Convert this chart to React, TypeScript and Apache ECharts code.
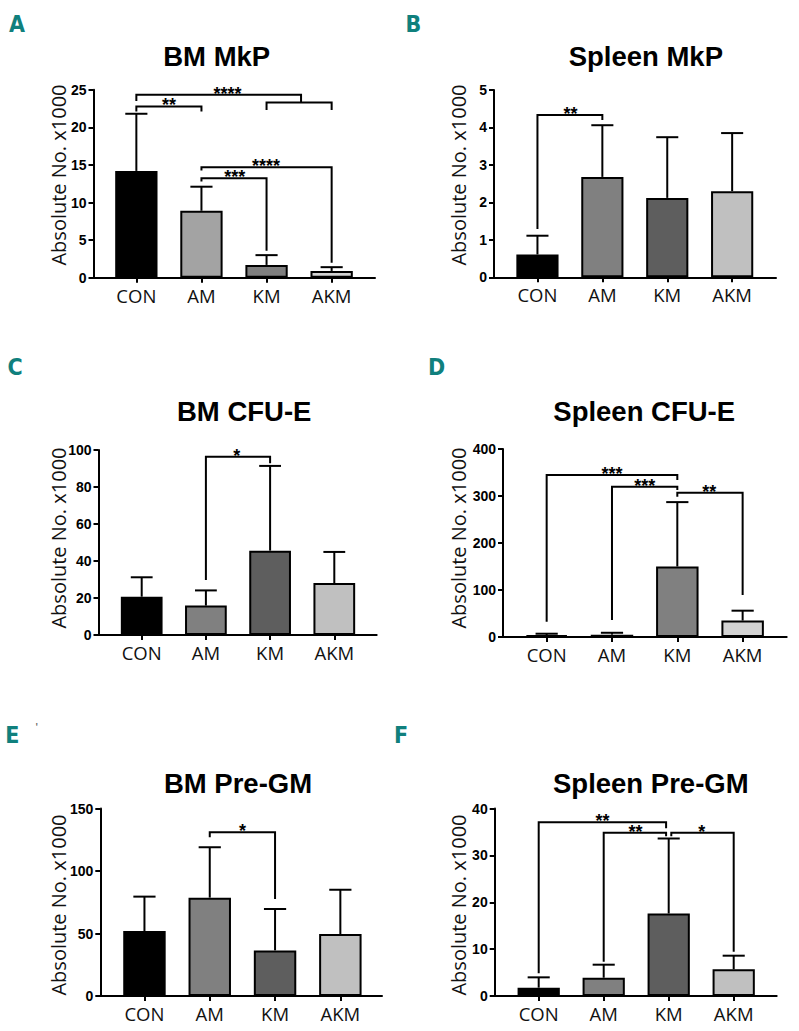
import React, { useEffect, useRef } from 'react';
import * as echarts from 'echarts';

// ---------- DATA ----------
const categories = ['CON', 'AM', 'KM', 'AKM'];

const bmMkpMean = [14.2, 8.9, 1.7, 0.9];
const bmMkpSd = [7.6, 3.2, 1.3, 0.5];
const bmMkpTicks = [0, 5, 10, 15, 20, 25];

const spleenMkpMean = [0.61, 2.68, 2.12, 2.3];
const spleenMkpSd = [0.5, 1.38, 1.62, 1.55];
const spleenMkpTicks = [0, 1, 2, 3, 4, 5];

const bmCfuEMean = [20.7, 15.9, 45.6, 28.1];
const bmCfuESd = [10.5, 8.2, 45.8, 16.8];
const bmCfuETicks = [0, 20, 40, 60, 80, 100];

const spleenCfuEMean = [4, 5, 150, 35];
const spleenCfuESd = [3, 4, 137, 21];
const spleenCfuETicks = [0, 100, 200, 300, 400];

const bmPreGmMean = [52, 78.7, 36.5, 49.6];
const bmPreGmSd = [27.5, 40.3, 33.1, 35.4];
const bmPreGmTicks = [0, 50, 100, 150];

const spleenPreGmMean = [1.78, 3.9, 17.6, 5.7];
const spleenPreGmSd = [2.2, 2.78, 16.0, 2.9];
const spleenPreGmTicks = [0, 10, 20, 30, 40];

// significance brackets: points as [category position, value], label, label position
type Bracket = { pts: number[][]; label: string; lx: number };

const bmMkpSig: Bracket[] = [
  { pts: [[0, 23.5], [0, 24.33], [2.53, 24.33], [2.53, 23.3]], label: '****', lx: 1.4 },
  { pts: [[2, 22.3], [2, 23.3], [3, 23.3], [3, 22.3]], label: '', lx: 2.5 },
  { pts: [[0, 22.1], [0, 22.77], [1, 22.77], [1, 22.1]], label: '**', lx: 0.5 },
  { pts: [[1, 14.25], [1, 14.7], [3, 14.7], [3, 2.0]], label: '****', lx: 1.99 },
  { pts: [[1, 12.78], [1, 13.24], [2, 13.24], [2, 3.6]], label: '***', lx: 1.51 },
];
const spleenMkpSig: Bracket[] = [
  { pts: [[0, 1.29], [0, 4.33], [1, 4.33], [1, 4.2]], label: '**', lx: 0.51 },
];
const bmCfuESig: Bracket[] = [
  { pts: [[1, 29.7], [1, 96.4], [2, 96.4], [2, 92.8]], label: '*', lx: 1.48 },
];
const spleenCfuESig: Bracket[] = [
  { pts: [[0, 32.6], [0, 344.7], [2, 344.7], [2, 334]], label: '***', lx: 1.0 },
  { pts: [[1, 36], [1, 319.9], [2, 319.9], [2, 312.8]], label: '***', lx: 1.5 },
  { pts: [[2, 298.5], [2, 307], [3, 307], [3, 89.4]], label: '**', lx: 2.49 },
];
const bmPreGmSig: Bracket[] = [
  { pts: [[1, 127], [1, 131], [2, 131], [2, 77.6]], label: '*', lx: 1.5 },
];
const spleenPreGmSig: Bracket[] = [
  { pts: [[0, 4.84], [0, 37.05], [1.96, 37.05], [1.96, 35.8]], label: '**', lx: 0.98 },
  { pts: [[1, 7.3], [1, 34.85], [1.96, 34.85], [1.96, 34.1]], label: '**', lx: 1.49 },
  { pts: [[2.04, 34.1], [2.04, 34.85], [3, 34.85], [3, 9.45]], label: '*', lx: 2.51 },
];

// ---------- LAYOUT / STYLE ----------
const grayA = ['#000000', '#a3a3a3', '#7f7f7f', '#d3d3d3'];
const grayB = ['#000000', '#808080', '#5e5e5e', '#c0c0c0'];
const grayD = ['#000000', '#7a7a7a', '#808080', '#d3d3d3'];

const panels = [
  { letter: 'A', title: 'BM MkP', mean: bmMkpMean, sd: bmMkpSd, ticks: bmMkpTicks, sig: bmMkpSig, colors: grayA,
    L: { lx: 17, ly: 23.5, tx: 216.7, ty: 56.7, nx: 58.3, ny: 175, axLeft: 93.5, top: 89.7, bottom: 277.7, right: 375, barsLeft: 103.8, barsWidth: 260.4 } },
  { letter: 'B', title: 'Spleen MkP', mean: spleenMkpMean, sd: spleenMkpSd, ticks: spleenMkpTicks, sig: spleenMkpSig, colors: grayB,
    L: { lx: 413.3, ly: 23.5, tx: 645.8, ty: 56.7, nx: 458.3, ny: 175, axLeft: 494, top: 90, bottom: 277.3, right: 776, barsLeft: 505, barsWidth: 259.6 } },
  { letter: 'C', title: 'BM CFU-E', mean: bmCfuEMean, sd: bmCfuESd, ticks: bmCfuETicks, sig: bmCfuESig, colors: grayB,
    L: { lx: 15, ly: 366.7, tx: 244.2, ty: 411.7, nx: 58.3, ny: 538, axLeft: 98.5, top: 450, bottom: 635, right: 376.7, barsLeft: 109.6, barsWidth: 256.8 } },
  { letter: 'D', title: 'Spleen CFU-E', mean: spleenCfuEMean, sd: spleenCfuESd, ticks: spleenCfuETicks, sig: spleenCfuESig, colors: grayD,
    L: { lx: 436.7, ly: 366.7, tx: 644.2, ty: 411, nx: 458.3, ny: 538, axLeft: 503, top: 449, bottom: 637, right: 786.7, barsLeft: 514, barsWidth: 261.3 } },
  { letter: 'E', title: 'BM Pre-GM', mean: bmPreGmMean, sd: bmPreGmSd, ticks: bmPreGmTicks, sig: bmPreGmSig, colors: grayB,
    L: { lx: 12.3, ly: 735, tx: 238, ty: 783.3, nx: 58.3, ny: 905, axLeft: 100.3, top: 808.5, bottom: 996, right: 382, barsLeft: 111.8, barsWidth: 261.2 } },
  { letter: 'F', title: 'Spleen Pre-GM', mean: spleenPreGmMean, sd: spleenPreGmSd, ticks: spleenPreGmTicks, sig: spleenPreGmSig, colors: grayB,
    L: { lx: 401, ly: 735, tx: 650.8, ty: 783.3, nx: 458.3, ny: 905, axLeft: 494.7, top: 808.5, bottom: 996, right: 776.7, barsLeft: 506.2, barsWidth: 260 } },
];

const SANS = '"Liberation Sans", Arial, sans-serif';
const OPEN = '"Open Sans", "Noto Sans", sans-serif';
const TEAL = '#10807d';

function buildOption() {
  const grid: any[] = [];
  const xAxis: any[] = [];
  const yAxis: any[] = [];
  const series: any[] = [];
  const graphic: any[] = [];

  panels.forEach((p, k) => {
    const L = p.L;
    const gA = 2 * k;
    const gB = 2 * k + 1;
    const h = L.bottom - L.top;
    grid.push({ left: L.axLeft, top: L.top, width: L.right - L.axLeft, height: h, containLabel: false });
    grid.push({ left: L.barsLeft, top: L.top, width: L.barsWidth, height: h, containLabel: false });
    const min = p.ticks[0];
    const max = p.ticks[p.ticks.length - 1];
    const interval = p.ticks[1] - p.ticks[0];

    xAxis.push({
      type: 'value', gridIndex: gA, min: 0, max: 1,
      axisLine: { show: true, onZero: false, lineStyle: { color: '#000', width: 2 } },
      axisTick: { show: false }, axisLabel: { show: false }, splitLine: { show: false },
    });
    xAxis.push({
      type: 'category', gridIndex: gB, data: categories,
      axisLine: { show: false },
      axisTick: { show: true, alignWithLabel: true, length: 5, lineStyle: { color: '#000', width: 2 } },
      axisLabel: { color: '#111', fontFamily: OPEN, fontSize: 18.5, margin: 8 },
      splitLine: { show: false },
    });
    yAxis.push({
      type: 'value', gridIndex: gA, min, max, interval,
      axisLine: { show: true, lineStyle: { color: '#000', width: 2 } },
      axisTick: { show: true, length: 5, lineStyle: { color: '#000', width: 2 } },
      axisLabel: { color: '#000', fontFamily: SANS, fontWeight: 'bold', fontSize: 14, margin: 7 },
      splitLine: { show: false },
    });
    yAxis.push({ type: 'value', gridIndex: gB, min, max, interval, show: false });

    series.push({
      type: 'bar', xAxisIndex: gB, yAxisIndex: gB, barWidth: '65%', z: 2,
      data: p.mean.map((v, i) => ({ value: v, itemStyle: { color: p.colors[i] } })),
      itemStyle: { borderColor: '#000', borderWidth: 2 },
    });
    series.push({
      type: 'custom', xAxisIndex: gB, yAxisIndex: gB, z: 3,
      data: p.mean.map((m, i) => [i, m, m + p.sd[i]]),
      encode: { x: 0, y: [1, 2] },
      renderItem: (params: any, api: any) => {
        const i = api.value(0);
        const p0 = api.coord([i, api.value(1)]);
        const p1 = api.coord([i, api.value(2)]);
        const half = api.size([1, 0])[0] * 0.17;
        return {
          type: 'group',
          children: [
            { type: 'line', shape: { x1: p0[0], y1: p0[1], x2: p1[0], y2: p1[1] }, style: { stroke: '#000', lineWidth: 2 } },
            { type: 'line', shape: { x1: p1[0] - half, y1: p1[1], x2: p1[0] + half, y2: p1[1] }, style: { stroke: '#000', lineWidth: 2 } },
          ],
        };
      },
    });
    const sig = p.sig;
    series.push({
      type: 'custom', xAxisIndex: gB, yAxisIndex: gB, z: 4,
      data: sig.map(() => [0, 0]),
      renderItem: (params: any, api: any) => {
        const b = sig[params.dataIndex];
        const base = api.coord([0, 0]);
        const band = api.size([1, 0])[0];
        const X = (c: number) => base[0] + c * band;
        const Y = (v: number) => api.coord([0, v])[1];
        const pts = b.pts.map(([c, v]) => [X(c), Y(v)]);
        const topV = Math.max(...b.pts.map((q) => q[1]));
        const children: any[] = [
          { type: 'polyline', shape: { points: pts }, style: { stroke: '#000', lineWidth: 2, fill: null } },
        ];
        if (b.label) {
          children.push({
            type: 'text',
            style: {
              text: b.label, x: X(b.lx), y: Y(topV) - 1,
              align: 'center', verticalAlign: 'middle',
              fill: '#000', fontFamily: SANS, fontWeight: 'bold', fontSize: 18,
            },
          });
        }
        return { type: 'group', children };
      },
    });

    graphic.push({
      type: 'text', x: L.lx, y: L.ly,
      style: { text: p.letter, fill: TEAL, fontFamily: '"Liberation Sans Narrow", "DejaVu Sans Condensed", sans-serif', fontWeight: 'bold', fontSize: 23, align: 'center', verticalAlign: 'middle' },
    });
    graphic.push({
      type: 'text', x: L.tx, y: L.ty,
      style: { text: p.title, fill: '#000', fontFamily: SANS, fontWeight: 'bold', fontSize: 27.5, align: 'center', verticalAlign: 'middle' },
    });
    graphic.push({
      type: 'text', x: L.nx, y: L.ny, rotation: Math.PI / 2,
      style: { text: 'Absolute No. x1000', fill: '#111', fontFamily: OPEN, fontSize: 20, align: 'center', verticalAlign: 'middle' },
    });
  });

  graphic.push({
    type: 'text', x: 36.7, y: 727,
    style: { text: "'", fill: '#666', fontFamily: SANS, fontSize: 13, align: 'center', verticalAlign: 'middle' },
  });

  return {
    animation: false,
    backgroundColor: '#ffffff',
    grid, xAxis, yAxis, series, graphic,
  };
}

export default function App() {
  const ref = useRef<HTMLDivElement>(null);
  useEffect(() => {
    if (!ref.current) return;
    const chart = echarts.init(ref.current, null, { renderer: 'svg' });
    chart.setOption(buildOption() as any);
    return () => chart.dispose();
  }, []);
  return (
    <div
      ref={ref}
      style={{ position: 'absolute', left: 0, top: 0, width: 799, height: 1031, background: '#fff' }}
    />
  );
}
